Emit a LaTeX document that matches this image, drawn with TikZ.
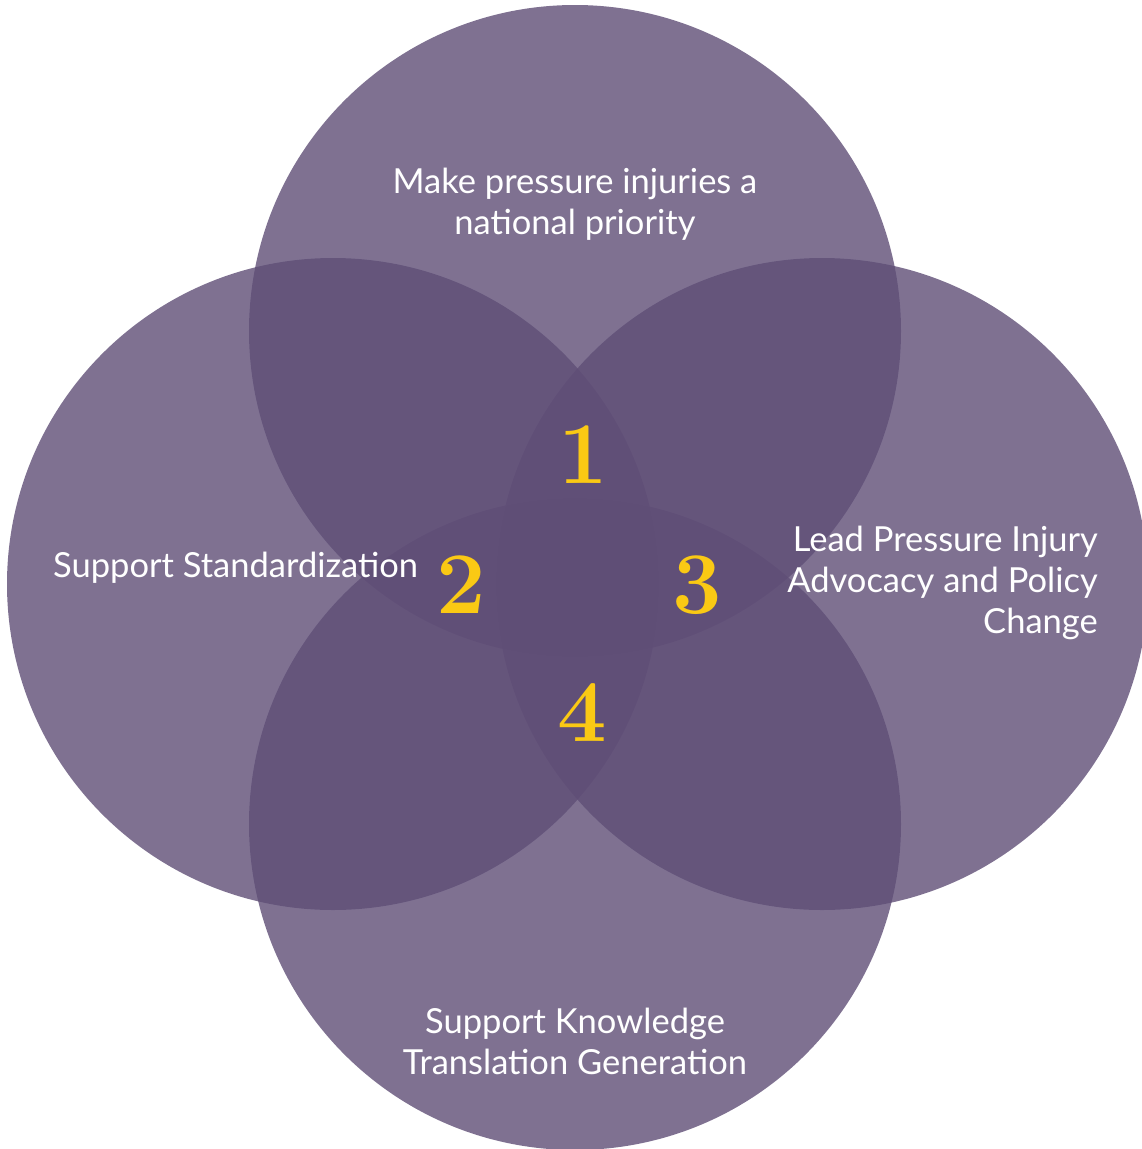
\documentclass[tikz,border=0pt]{standalone}
\usepackage{fontspec}
\newfontfamily\latofont{Lato}[Ligatures={Common,Rare}]
\usepackage{tikz}
\usetikzlibrary{positioning}
\definecolor{venn}{RGB}{95,78,118}
\definecolor{gold}{RGB}{250,201,20}
\tikzset{petal/.style={fill=venn,fill opacity=0.8},
  goal/.style={text=white,inner sep=0pt,font=\latofont\fontsize{34.5}{41}\selectfont},
  num/.style={text=gold,inner sep=0pt,font=\bfseries\fontsize{88}{88}\selectfont}}

\begin{document}
\begin{tikzpicture}[x=1pt,y=-1pt]
\useasboundingbox (0,0) rectangle (1142,1149);
\clip (0,0) rectangle (1142,1149);
\coordinate (T) at (575,331);
\coordinate (L) at (333,584);
\coordinate (R) at (822,584);
\coordinate (B) at (575,824);
\fill[petal] (T) circle[radius=326pt];
\fill[petal] (L) circle[radius=326pt];
\fill[petal] (R) circle[radius=326pt];
\fill[petal] (B) circle[radius=326pt];
\node[goal,align=center,anchor=north] (tgoal) at (575,168) {Make pressure injuries a\\national priority};
\node[goal,anchor=base west] (lgoal) at (53,577) {Support Standardization};
\node[goal,align=right,anchor=north east] (rgoal) at (1098,526) {Lead Pressure Injury\\Advocacy and Policy\\Change};
\node[goal,align=center,anchor=north] (bgoal) at (575,1008) {Support Knowledge\\Translation Generation};
\node[num] (n1) at (583,455) {1};
\node[num] (n2) at (461,585) {2};
\node[num] (n3) at (697,585) {3};
\node[num] (n4) at (582,713) {4};
\end{tikzpicture}
\end{document}
